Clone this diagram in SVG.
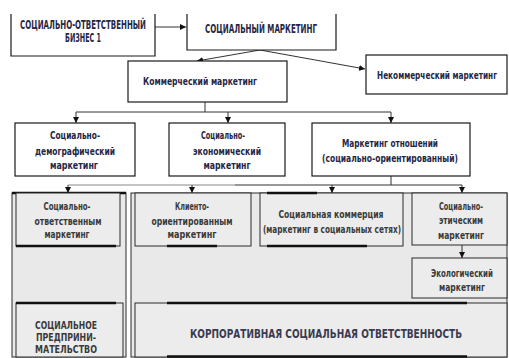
<svg xmlns="http://www.w3.org/2000/svg" width="509" height="358" viewBox="0 0 509 358">
<style>
.box{fill:#fff;stroke:#1a1a1a;stroke-width:1.2}
.gbox{fill:#ececec;stroke:#2a2a2a;stroke-width:1}
.col{fill:#e9e9e9;stroke:#2a2a2a;stroke-width:1}
.thick{stroke:#111;stroke-width:2.6;fill:none}
.con{stroke:#333;stroke-width:1;fill:none}
.conl{stroke:#888;stroke-width:1;fill:none}
text{font-family:"Liberation Sans Narrow","DejaVu Sans Condensed","Liberation Sans",sans-serif;font-stretch:condensed;font-weight:bold;text-anchor:middle}
.t{fill:#262645;font-size:10.5px}
.tc{fill:#262645;font-size:11.5px}
.tl{fill:#3a3a3a;font-size:10px}
.tb{fill:#3a3a50;font-size:12px}
</style>
<defs>
<marker id="ar" viewBox="0 0 10 10" refX="10" refY="5" markerWidth="6" markerHeight="6" orient="auto" markerUnits="userSpaceOnUse">
<path d="M0,0 L10,5 L0,10 z" fill="#111"/>
</marker>
</defs>
<rect width="509" height="358" fill="#fff"/>

<g id="lower-columns">
<rect class="col" x="12" y="193" width="114" height="164"/>
<rect class="col" x="131" y="193" width="376" height="164"/>
<line class="thick" x1="12" y1="193" x2="126" y2="193"/>
</g>

<g id="connectors">
<line class="con" x1="155" y1="27" x2="186" y2="27" marker-end="url(#ar)"/>
<line class="con" x1="260" y1="50" x2="197" y2="61" marker-end="url(#ar)"/>
<line class="con" x1="260" y1="50" x2="365" y2="69" marker-end="url(#ar)"/>
<path class="con" d="M205,102 V112 M76,112 H391"/>
<line class="con" x1="76" y1="112" x2="76" y2="123" marker-end="url(#ar)"/>
<line class="con" x1="228" y1="112" x2="228" y2="123" marker-end="url(#ar)"/>
<line class="con" x1="391" y1="112" x2="391" y2="123" marker-end="url(#ar)"/>
<path class="conl" d="M68,185 H235"/>
<path class="con" d="M391,176 V185 M235,185 H462"/>
<line class="con" x1="68" y1="185" x2="68" y2="193" marker-end="url(#ar)"/>
<line class="con" x1="192" y1="185" x2="192" y2="193" marker-end="url(#ar)"/>
<line class="con" x1="332" y1="185" x2="332" y2="193" marker-end="url(#ar)"/>
<line class="con" x1="462" y1="185" x2="462" y2="193" marker-end="url(#ar)"/>
<line class="con" x1="462" y1="245" x2="462" y2="258" marker-end="url(#ar)"/>
</g>

<g id="n-biz">
<path class="box" d="M11,14 V56 H155 V14" />
<text class="tc" x="83" y="29" textLength="126" lengthAdjust="spacingAndGlyphs">СОЦИАЛЬНО-ОТВЕТСТВЕННЫЙ</text>
<text class="tc" x="83" y="42" textLength="36" lengthAdjust="spacingAndGlyphs">БИЗНЕС 1</text>
</g>

<g id="n-social-marketing">
<path class="box" d="M187,14 V50 H336 V14" />
<text class="tc" x="261" y="33" textLength="112" lengthAdjust="spacingAndGlyphs">СОЦИАЛЬНЫЙ МАРКЕТИНГ</text>
</g>

<g id="n-commercial">
<rect class="box" x="128" y="61" width="159" height="41"/>
<text class="t" x="200" y="85" textLength="114" lengthAdjust="spacingAndGlyphs">Коммерческий маркетинг</text>
</g>

<g id="n-noncommercial">
<rect class="box" x="366" y="55" width="141" height="39"/>
<text class="t" transform="translate(437,79) scale(0.8,1)" x="0" y="0" textLength="150" lengthAdjust="spacingAndGlyphs">Некоммерческий маркетинг</text>
</g>

<g id="n-demo">
<rect class="box" x="15" y="123" width="120" height="53"/>
<text class="t" x="75" y="139" textLength="50" lengthAdjust="spacingAndGlyphs">Социально-</text>
<text class="t" x="75" y="155" textLength="80" lengthAdjust="spacingAndGlyphs">демографический</text>
<text class="t" x="74" y="169" textLength="48" lengthAdjust="spacingAndGlyphs">маркетинг</text>
</g>

<g id="n-econ">
<rect class="box" x="169" y="123" width="116" height="53"/>
<text class="t" x="223" y="139" textLength="44" lengthAdjust="spacingAndGlyphs">Социально-</text>
<text class="t" x="227" y="155" textLength="68" lengthAdjust="spacingAndGlyphs">экономический</text>
<text class="t" x="227" y="169" textLength="47" lengthAdjust="spacingAndGlyphs">маркетинг</text>
</g>

<g id="n-relations">
<rect class="box" x="312" y="123" width="158" height="53"/>
<text class="t" x="390" y="147" textLength="96" lengthAdjust="spacingAndGlyphs">Маркетинг отношений</text>
<text class="t" x="390" y="162" textLength="136" lengthAdjust="spacingAndGlyphs">(социально-ориентированный)</text>
</g>

<g id="n-resp-marketing">
<rect class="gbox" x="16" y="193" width="104" height="53"/>
<line class="thick" x1="16" y1="246" x2="116" y2="246"/>
<text class="tl" x="67" y="210" textLength="47" lengthAdjust="spacingAndGlyphs">Социально-</text>
<text class="tl" x="68" y="225" textLength="67" lengthAdjust="spacingAndGlyphs">ответственным</text>
<text class="tl" x="67" y="238" textLength="45" lengthAdjust="spacingAndGlyphs">маркетинг</text>
</g>

<g id="n-client">
<rect class="gbox" x="135" y="193" width="116" height="53"/>
<line class="thick" x1="167" y1="246" x2="217" y2="246"/>
<text class="tl" x="192" y="210" textLength="34" lengthAdjust="spacingAndGlyphs">Клиенто-</text>
<text class="tl" x="192" y="225" textLength="81" lengthAdjust="spacingAndGlyphs">ориентированным</text>
<text class="tl" x="192" y="238" textLength="49" lengthAdjust="spacingAndGlyphs">маркетинг</text>
</g>

<g id="n-commerce">
<rect class="gbox" x="260" y="193" width="143" height="53"/>
<line class="thick" x1="267" y1="193" x2="317" y2="193"/>
<line class="thick" x1="267" y1="246" x2="367" y2="246"/>
<text class="tl" x="331" y="218" textLength="105" lengthAdjust="spacingAndGlyphs">Социальная коммерция</text>
<text class="tl" x="332" y="233" textLength="138" lengthAdjust="spacingAndGlyphs">(маркетинг в социальных сетях)</text>
</g>

<g id="n-ethical">
<rect class="gbox" x="412" y="193" width="95" height="52"/>
<text class="tl" x="461" y="210" textLength="44" lengthAdjust="spacingAndGlyphs">Социально-</text>
<text class="tl" x="461" y="224" textLength="44" lengthAdjust="spacingAndGlyphs">этическим</text>
<text class="tl" x="461" y="239" textLength="46" lengthAdjust="spacingAndGlyphs">маркетинг</text>
</g>

<g id="n-eco">
<rect class="gbox" x="412" y="258" width="95" height="40"/>
<text class="tl" x="462" y="277" textLength="62" lengthAdjust="spacingAndGlyphs">Экологический</text>
<text class="tl" x="462" y="291" textLength="46" lengthAdjust="spacingAndGlyphs">маркетинг</text>
</g>

<g id="n-entrepreneurship">
<rect class="gbox" x="16" y="303" width="107" height="54"/>
<line class="thick" x1="16" y1="303" x2="116" y2="303"/>
<text class="tl" x="66" y="329" textLength="62" lengthAdjust="spacingAndGlyphs">СОЦИАЛЬНОЕ</text>
<text class="tl" x="66" y="341" textLength="60" lengthAdjust="spacingAndGlyphs">ПРЕДПРИНИ-</text>
<text class="tl" x="66" y="353" textLength="62" lengthAdjust="spacingAndGlyphs">МАТЕЛЬСТВО</text>
</g>

<g id="n-csr">
<rect class="gbox" x="135" y="303" width="372" height="54"/>
<line class="thick" x1="167" y1="303" x2="467" y2="303"/>
<line class="thick" x1="167" y1="356.5" x2="467" y2="356.5"/>
<text class="tb" transform="translate(326,338) scale(0.8,1)" x="0" y="0" textLength="340" lengthAdjust="spacingAndGlyphs">КОРПОРАТИВНАЯ СОЦИАЛЬНАЯ ОТВЕТСТВЕННОСТЬ</text>
</g>
</svg>
